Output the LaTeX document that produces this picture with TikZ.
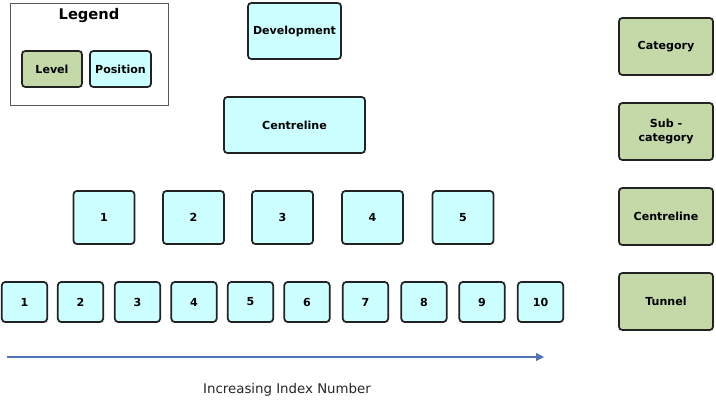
\documentclass[tikz,border=0pt]{standalone}
\usepackage{fontspec}
\setmainfont{DejaVu Sans}
\usetikzlibrary{arrows.meta}
\definecolor{posfill}{HTML}{CCFFFF}
\definecolor{lvlfill}{HTML}{C4D8A8}
\definecolor{boxline}{HTML}{222222}
\definecolor{arrowblue}{HTML}{4F72B8}
\tikzset{
  box/.style={draw=boxline, line width=1.3pt, rounded corners=2.5pt, inner sep=0pt,
    font=\bfseries\fontsize{8.3}{10.3}\selectfont, align=center},
  posbox/.style={box, fill=posfill},
  lvlbox/.style={box, fill=lvlfill}
}
\begin{document}
\begin{tikzpicture}[x=0.75pt, y=-0.75pt]
      \useasboundingbox (0,0) rectangle (716,404);
      \node[draw=black!65, line width=0.6pt, minimum width=118.5pt, minimum height=76.5pt] (legend) at (89,54) {};
      \node[font=\bfseries\fontsize{11}{13}\selectfont] (legendtitle) at (89,16) {Legend};
      \node[lvlbox, minimum width=45pt, minimum height=27pt] (level) at (52,69) {Level};
      \node[posbox, minimum width=45.75pt, minimum height=27pt] (position) at (120.5,69) {Position};
      \node[posbox, minimum width=69.75pt, minimum height=42pt] (dev) at (294.5,31) {Development};
      \node[posbox, minimum width=105.75pt, minimum height=42pt] (cl) at (294.5,125) {Centreline};
      \foreach \x [count=\i] in {104,193.5,282.5,372.5,463}
        \node[posbox, minimum width=45.75pt, minimum height=39.75pt] (c\i) at (\x,217.5) {\i};
      \foreach \x [count=\i] in {24.5,80.5,137.5,194,250.5,307,365.5,424,482,540.5}
        \node[posbox, minimum width=34pt, minimum height=30pt] (t\i) at (\x,302) {\i};
      \node[lvlbox, minimum width=70.5pt, minimum height=42.75pt] (category) at (666,46.5) {Category};
      \node[lvlbox, minimum width=70.5pt, minimum height=42.75pt] (subcat) at (666,131.5) {Sub -\\category};
      \node[lvlbox, minimum width=70.5pt, minimum height=42.75pt] (clevel) at (666,216.5) {Centreline};
      \node[lvlbox, minimum width=70.5pt, minimum height=42.75pt] (tunnel) at (666,301.5) {Tunnel};
      \coordinate (idxstart) at (7,357);
      \coordinate (idxend) at (544,357);
      \draw[arrowblue, line width=0.8pt, -{Triangle[length=6pt, width=6pt]}] (idxstart) -- (idxend);
      \node[font=\fontsize{10}{12}\selectfont, text=black!85] (idx) at (287,390) {Increasing Index Number};
    \end{tikzpicture}
\end{document}
